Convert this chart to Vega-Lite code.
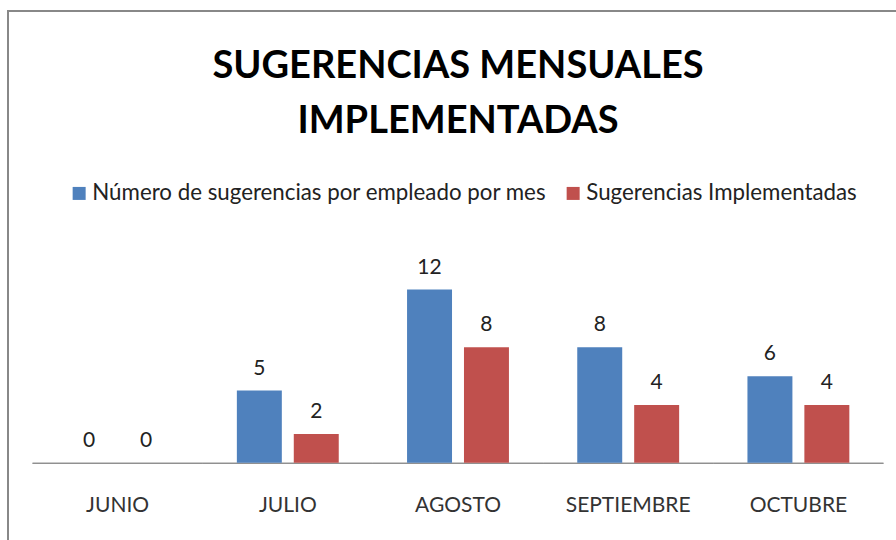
{
  "$schema": "https://vega.github.io/schema/vega-lite/v6.json",
  "autosize": "none",
  "width": 900,
  "height": 560,
  "padding": {"left": 8, "top": 11, "right": 0, "bottom": 0},
  "background": "white",
  "config": {
    "view": {"stroke": "#888888", "strokeWidth": 2},
    "font": "Lato"
  },
  "title": {
    "text": ["SUGERENCIAS MENSUALES", "IMPLEMENTADAS"],
    "anchor": "middle",
    "orient": "top",
    "offset": -130,
    "font": "Lato",
    "fontSize": 38,
    "fontWeight": "bold",
    "color": "#000000",
    "lineHeight": 55
  },
  "data": {
    "values": [
      {"mes": "JUNIO", "serie": "Número de sugerencias por empleado por mes", "valor": 0},
      {"mes": "JUNIO", "serie": "Sugerencias Implementadas", "valor": 0},
      {"mes": "JULIO", "serie": "Número de sugerencias por empleado por mes", "valor": 5},
      {"mes": "JULIO", "serie": "Sugerencias Implementadas", "valor": 2},
      {"mes": "AGOSTO", "serie": "Número de sugerencias por empleado por mes", "valor": 12},
      {"mes": "AGOSTO", "serie": "Sugerencias Implementadas", "valor": 8},
      {"mes": "SEPTIEMBRE", "serie": "Número de sugerencias por empleado por mes", "valor": 8},
      {"mes": "SEPTIEMBRE", "serie": "Sugerencias Implementadas", "valor": 4},
      {"mes": "OCTUBRE", "serie": "Número de sugerencias por empleado por mes", "valor": 6},
      {"mes": "OCTUBRE", "serie": "Sugerencias Implementadas", "valor": 4}
    ]
  },
  "encoding": {
    "x": {
      "field": "mes",
      "type": "nominal",
      "sort": ["JUNIO", "JULIO", "AGOSTO", "SEPTIEMBRE", "OCTUBRE"],
      "scale": {"paddingInner": 0, "paddingOuter": 0.144},
      "axis": {
        "title": null,
        "domain": false,
        "ticks": false,
        "labelAngle": 0,
        "labelFont": "Lato",
        "labelFontSize": 21,
        "labelColor": "#333333",
        "labelPadding": 0,
        "offset": -77
      }
    }
  },
  "layer": [
    {
      "mark": {"type": "bar", "color": "#888888"},
      "encoding": {
        "y": {"datum": 0, "type": "quantitative", "scale": {"domain": [-7.5, 31.3], "nice": false, "zero": false}, "axis": null},
        "y2": {"datum": -0.07}
      }
    },
    {
      "mark": {"type": "bar"},
      "encoding": {
        "xOffset": {
          "field": "serie",
          "type": "nominal",
          "scale": {"paddingInner": 0.21, "paddingOuter": 0.6}
        },
        "y": {"field": "valor", "type": "quantitative", "axis": null},
        "y2": {"datum": 0},
        "color": {
          "field": "serie",
          "type": "nominal",
          "scale": {
            "domain": ["Número de sugerencias por empleado por mes", "Sugerencias Implementadas"],
            "range": ["#4F81BD", "#C0504D"]
          },
          "legend": {
            "title": null,
            "orient": "none",
            "direction": "horizontal",
            "legendX": 60,
            "legendY": 171,
            "symbolType": "square",
            "symbolSize": 169,
            "symbolStrokeWidth": 0,
            "labelFont": "Lato",
            "labelFontSize": 22.3,
            "labelColor": "#222222",
            "labelOffset": 2,
            "columnPadding": 15,
            "labelLimit": 600
          }
        }
      }
    },
    {
      "mark": {"type": "text", "baseline": "bottom", "dy": -12, "fontSize": 21, "font": "Lato", "color": "#222222"},
      "encoding": {
        "xOffset": {"field": "serie", "type": "nominal"},
        "y": {"field": "valor", "type": "quantitative"},
        "text": {"field": "valor", "type": "quantitative"}
      }
    }
  ]
}
